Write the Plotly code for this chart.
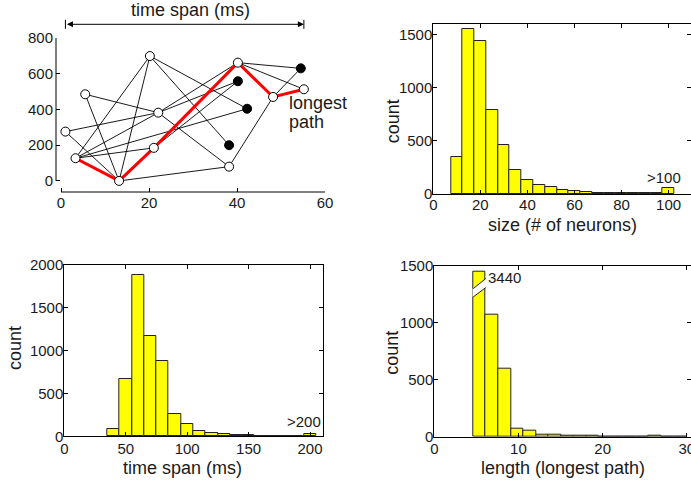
import plotly.graph_objects as go

# ---------------- data ----------------
# network example (time in ms, neuron index)
node_names = ["A", "B", "C", "D", "E", "F", "G", "H", "I", "J", "K", "P", "Q", "R", "S"]
node_x = [1.0, 3.3, 5.5, 13.2, 20.2, 22.1, 21.1, 40.2, 38.2, 48.2, 55.2, 54.5, 40.2, 42.3, 38.2]
node_y = [276, 127, 485, 0, 699, 382, 185, 662, 80, 470, 513, 630, 558, 404, 200]
node_filled = [False, False, False, False, False, False, False, False, False, False, False,
               True, True, True, True]
edges = [("A", "F"), ("A", "D"), ("C", "F"), ("C", "D"), ("B", "E"), ("B", "F"), ("B", "G"),
         ("B", "R"), ("E", "D"), ("E", "R"), ("E", "S"), ("F", "H"), ("F", "Q"), ("F", "I"),
         ("G", "Q"), ("D", "I"), ("I", "J"), ("J", "P"), ("H", "P"), ("H", "K")]
longest_path = ["B", "D", "G", "H", "J", "K"]

# size histogram (# of neurons), last bin = >100
size_bins = [10, 15, 20, 25, 30, 35, 40, 45, 50, 55, 60, 65, 70, 75, 80, 85, 90, 95, 100]
size_counts = [345, 1550, 1440, 795, 463, 225, 128, 81, 63, 38, 25, 16, 12, 9, 9, 6, 5, 5, 53]
size_width = 5

# time span histogram (ms), last bin = >200
span_bins = [40, 50, 60, 70, 80, 90, 100, 110, 120, 130, 140, 150, 160, 170, 180, 190, 200]
span_counts = [82, 665, 1887, 1171, 879, 261, 148, 66, 39, 27, 15, 12, 8, 6, 4, 3, 23]
span_width = 10

# longest path length histogram
length_bins = [5.37, 6.86, 8.35, 9.84, 11.33, 12.82, 14.31, 15.8, 17.29, 18.78, 20.27,
               21.76, 23.25, 24.74, 26.23, 27.72, 29.21]
length_counts = [3440, 1072, 593, 73, 53, 15, 20, 9, 9, 6, 4, 3, 3, 2, 5, 3, 1]
length_width = 1.49

# ---------------- style ----------------
FONT = "Liberation Sans, Arial, Helvetica, sans-serif"
TXT = "#1a1a1a"
TICK_SIZE = 15
LABEL_SIZE = 18
YELLOW = "#ffff00"
EDGE = "#222222"
BREAK_TOP = 1450  # displayed height of the broken bar
W, H = 691, 480

fig = go.Figure()

# ---------------- panel 1: network ----------------
pos = {n: (x, y) for n, x, y in zip(node_names, node_x, node_y)}
ex, ey = [], []
for a, b in edges:
    ex += [pos[a][0], pos[b][0], None]
    ey += [pos[a][1], pos[b][1], None]
fig.add_trace(go.Scatter(x=ex, y=ey, mode="lines", line=dict(color="black", width=0.9),
                         xaxis="x", yaxis="y", hoverinfo="skip", showlegend=False))
fig.add_trace(go.Scatter(x=[pos[n][0] for n in longest_path], y=[pos[n][1] for n in longest_path],
                         mode="lines", line=dict(color="#ff0000", width=3),
                         xaxis="x", yaxis="y", hoverinfo="skip", showlegend=False))
fig.add_trace(go.Scatter(x=node_x, y=node_y, mode="markers",
                         marker=dict(size=9, color=["black" if f else "white" for f in node_filled],
                                     line=dict(color="black", width=1)),
                         xaxis="x", yaxis="y", hoverinfo="skip", showlegend=False))

# ---------------- histograms ----------------
def bars(xs, ys, w, xa, ya):
    fig.add_trace(go.Bar(x=xs, y=ys, width=w, marker=dict(color=YELLOW, line=dict(color=EDGE, width=1)),
                         xaxis=xa, yaxis=ya, showlegend=False, hoverinfo="skip"))

bars(size_bins, size_counts, size_width, "x2", "y2")
bars(span_bins, span_counts, span_width, "x3", "y3")
length_display = [min(v, BREAK_TOP) for v in length_counts]
bars(length_bins, length_display, length_width, "x4", "y4")

# ---------------- axes ----------------
tl_dom_x = [56 / W, 325 / W]
tl_dom_y = [288 / H, 442 / H]

def axis(dom, rng, tickvals, standoff, box=True):
    d = dict(domain=dom, range=rng, tickvals=tickvals, ticks="inside", ticklen=4,
             tickcolor="black", showline=box, linecolor="black", linewidth=1,
             showgrid=False, zeroline=False, automargin=False,
             ticklabelstandoff=standoff, ticklabeloverflow="allow",
             tickfont=dict(size=TICK_SIZE, color=TXT, family=FONT))
    if box:
        d["mirror"] = "ticks"
    return d

fig.update_layout(
    xaxis=dict(axis(tl_dom_x, [-1.14, 60], [0, 20, 40, 60], 0, box=False), anchor="y"),
    yaxis=dict(axis(tl_dom_y, [-62, 800], [0, 200, 400, 600, 800], 2, box=False), anchor="x"),
    xaxis2=dict(axis([433.3 / W, 1.0], [0, 109.5], [0, 20, 40, 60, 80, 100], -3), anchor="y2"),
    yaxis2=dict(axis([286 / H, 456 / H], [0, 1600], [0, 500, 1000, 1500], -3), anchor="x2"),
    xaxis3=dict(axis([64.3 / W, 323.3 / W], [0, 210.8], [0, 50, 100, 150, 200], -1), anchor="y3"),
    yaxis3=dict(axis([43.7 / H, 215 / H], [0, 2000], [0, 500, 1000, 1500, 2000], -3), anchor="x3"),
    xaxis4=dict(axis([434.3 / W, 1.0], [0, 30.5], [0, 10, 20, 30], -2), anchor="y4"),
    yaxis4=dict(axis([43.3 / H, 214.3 / H], [0, 1500], [0, 500, 1000, 1500], -3), anchor="x4"),
    width=W, height=H, margin=dict(l=0, r=0, t=0, b=0),
    paper_bgcolor="white", plot_bgcolor="white", template="none",
    font=dict(family=FONT, color=TXT), bargap=0,
)

shapes = []
annotations = []

def label(text, px, py, angle=0, size=LABEL_SIZE):
    annotations.append(dict(x=px / W, y=1 - py / H, xref="paper", yref="paper", text=text,
                            showarrow=False, textangle=angle, xanchor="center", yanchor="middle",
                            font=dict(size=size, color=TXT, family=FONT)))

# axis titles
label("size (# of neurons)", 562.5, 225)
label("count", 393.3, 121, angle=-90)
label("time span (ms)", 182, 468)
label("count", 15, 348, angle=-90)
label("length (longest path)", 563, 468)
label("count", 391.7, 353, angle=-90)

# detached axis lines of the network panel
shapes.append(dict(type="line", xref="x", yref="paper", x0=0, x1=60, y0=tl_dom_y[0], y1=tl_dom_y[0],
                   line=dict(color="black", width=1)))
shapes.append(dict(type="line", xref="paper", yref="y", x0=tl_dom_x[0], x1=tl_dom_x[0], y0=0, y1=800,
                   line=dict(color="black", width=1)))

# time span arrow above network panel
t_min, t_max = min(node_x), max(node_x)
arrow_y = 1 - 24.3 / H
for tx in (t_min, t_max):
    shapes.append(dict(type="line", xref="x", yref="paper", x0=tx, x1=tx,
                       y0=arrow_y - 4.5 / H, y1=arrow_y + 4.5 / H, line=dict(color="black", width=1)))
annotations.append(dict(x=t_max, y=arrow_y, xref="x", yref="paper", ax=t_min, ay=0, axref="x",
                        ayref="pixel", showarrow=True, arrowside="end+start", arrowhead=2,
                        startarrowhead=2, arrowsize=1.2, startarrowsize=1.2, arrowwidth=1,
                        arrowcolor="black", text=""))
label("time span (ms)", 190, 10)
annotations.append(dict(x=51.3, y=436, xref="x", yref="y", text="longest", showarrow=False,
                        xanchor="left", yanchor="middle", font=dict(size=LABEL_SIZE, color=TXT, family=FONT)))
annotations.append(dict(x=51.3, y=332, xref="x", yref="y", text="path", showarrow=False,
                        xanchor="left", yanchor="middle", font=dict(size=LABEL_SIZE, color=TXT, family=FONT)))

# overflow labels
annotations.append(dict(x=size_bins[-1], y=size_counts[-1], xref="x2", yref="y2", text="&gt;100",
                        showarrow=False, xanchor="center", yanchor="bottom", xshift=-5, yshift=0,
                        font=dict(size=TICK_SIZE, color=TXT, family=FONT)))
annotations.append(dict(x=span_bins[-1], y=span_counts[-1], xref="x3", yref="y3", text="&gt;200",
                        showarrow=False, xanchor="center", yanchor="bottom", xshift=-6, yshift=2,
                        font=dict(size=TICK_SIZE, color=TXT, family=FONT)))
annotations.append(dict(x=length_bins[0] + length_width / 2, y=BREAK_TOP, xref="x4", yref="y4",
                        text=str(length_counts[0]), showarrow=False, xanchor="left", yanchor="top",
                        xshift=0, yshift=4, font=dict(size=TICK_SIZE, color=TXT, family=FONT)))

# break in the tallest bar
bx0 = length_bins[0] - length_width / 2
bx1 = length_bins[0] + length_width / 2
lo0, lo1, hi0, hi1 = 1226, 1308, 1299, 1387
shapes.append(dict(type="path", xref="x4", yref="y4",
                   path=f"M{bx0 - 0.08},{lo0} L{bx1 + 0.08},{lo1} L{bx1 + 0.08},{hi1} L{bx0 - 0.08},{hi0} Z",
                   fillcolor="white", line=dict(width=0), layer="above"))
shapes.append(dict(type="line", xref="x4", yref="y4", x0=bx0, x1=bx1, y0=lo0, y1=lo1,
                   line=dict(color=EDGE, width=1)))
shapes.append(dict(type="line", xref="x4", yref="y4", x0=bx0, x1=bx1, y0=hi0, y1=hi1,
                   line=dict(color=EDGE, width=1)))

fig.update_layout(shapes=shapes, annotations=annotations)
fig.write_html("out.html", config={"displayModeBar": False},
               post_script="document.body.style.margin='0';")
